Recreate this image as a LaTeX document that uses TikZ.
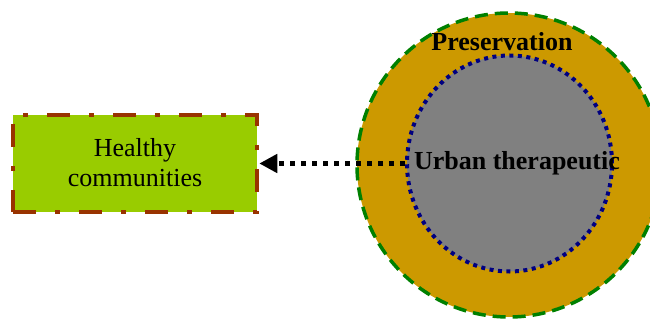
\documentclass[tikz,border=0pt]{standalone}
\usepackage{fontspec}
\setmainfont{Liberation Serif}
\usepackage{xcolor}
\usepackage{tikz}
\usetikzlibrary{arrows.meta,shapes.geometric}
\definecolor{gold}{HTML}{CC9900}
\definecolor{leaf}{HTML}{99CC00}
\definecolor{rust}{HTML}{993300}
\definecolor{navy}{HTML}{000080}
\definecolor{forest}{HTML}{008000}
\definecolor{core}{HTML}{808080}
\tikzset{
  outerring/.style={circle, fill=gold, draw=forest, line width=3.5pt,
    dash pattern=on 13pt off 7pt, minimum size=304pt, inner sep=0pt},
  innercore/.style={ellipse, fill=core, draw=navy, line width=4pt,
    dash pattern=on 4pt off 4.5pt, minimum width=205pt, minimum height=216pt, inner sep=0pt},
  goalbox/.style={rectangle, fill=leaf, draw=rust, line width=4.5pt,
    dash pattern=on 23pt off 19pt on 5pt off 19pt,
    minimum width=244pt, minimum height=97pt, align=center,
    font=\fontsize{26}{30}\selectfont},
  lbl/.style={text=black, font=\fontsize{26}{30}\selectfont\bfseries, inner sep=0pt},
  dotarrow/.style={draw=black, line width=5pt, dash pattern=on 5pt off 6pt,
    -{Triangle[length=18pt,width=18pt]}}
}

\begin{document}
\begin{tikzpicture}[x=1pt,y=-1pt]
  \useasboundingbox (0,0) rectangle (650,320);

  \node[outerring] (pres) at (509,165) {};
  \node[innercore] (core) at (509.5,163.5) {};
  \node[goalbox] (health) at (135,163.5) {\raisebox{3pt}{Healthy}\\\raisebox{3pt}{communities}};

  \node[lbl] (preslbl) at (502,42) {Preservation};
  \node[lbl] (corelbl) at (517,163) {Urban therapeutic};

  \draw[dotarrow] (core.west) -- (health.east);
\end{tikzpicture}
\end{document}
